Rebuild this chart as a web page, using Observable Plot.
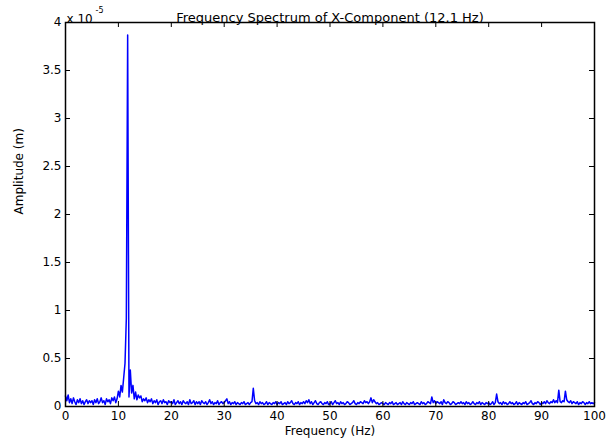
<!DOCTYPE html>
<html><head><meta charset="utf-8">
<script src="https://cdn.jsdelivr.net/npm/d3@7"></script>
<script src="https://cdn.jsdelivr.net/npm/@observablehq/plot@0.6"></script>
<style>
html,body{margin:0;padding:0;background:#fff;}
</style></head><body><div id="chart"></div>
<script>
const title = "Frequency Spectrum of X-Component (12.1 Hz)";
const xLabel = "Frequency (Hz)";
const yLabel = "Amplitude (m)";
const exponentBase = "x 10";
const exponentPower = "-5";
const freqStep = 0.25; // Hz between samples
// amplitude in units of 1e-5 m, one row per 5 Hz (20 samples)
const amplitude = [
  0.11, 0.06, 0.12, 0.04, 0.08, 0.03, 0.09, 0.05, 0.02, 0.07, 0.04, 0.08, 0.03, 0.06, 0.02, 0.05, 0.07, 0.03, 0.06, 0.04,
  0.06, 0.02, 0.07, 0.04, 0.08, 0.03, 0.05, 0.09, 0.04, 0.06, 0.02, 0.08, 0.05, 0.07, 0.03, 0.09, 0.06, 0.10, 0.04, 0.08,
  0.16, 0.10, 0.22, 0.15, 0.30, 0.45, 0.92, 3.87, 0.10, 0.38, 0.14, 0.22, 0.08, 0.15, 0.07, 0.12, 0.09, 0.11, 0.05, 0.08,
  0.06, 0.09, 0.04, 0.07, 0.05, 0.08, 0.03, 0.06, 0.04, 0.07, 0.02, 0.05, 0.06, 0.03, 0.07, 0.04, 0.05, 0.02, 0.06, 0.04,
  0.05, 0.03, 0.07, 0.02, 0.04, 0.06, 0.03, 0.05, 0.02, 0.06, 0.04, 0.03, 0.05, 0.02, 0.07, 0.03, 0.04, 0.06, 0.02, 0.05,
  0.03, 0.05, 0.02, 0.06, 0.04, 0.03, 0.05, 0.02, 0.04, 0.07, 0.03, 0.05, 0.02, 0.04, 0.03, 0.06, 0.02, 0.04, 0.05, 0.03,
  0.04, 0.06, 0.08, 0.03, 0.05, 0.02, 0.04, 0.03, 0.05, 0.02, 0.04, 0.03, 0.02, 0.04, 0.03, 0.05, 0.02, 0.03, 0.04, 0.02,
  0.04, 0.05, 0.19, 0.06, 0.03, 0.04, 0.02, 0.05, 0.03, 0.04, 0.02, 0.03, 0.05, 0.02, 0.04, 0.03, 0.02, 0.04, 0.03, 0.05,
  0.02, 0.04, 0.03, 0.05, 0.02, 0.03, 0.04, 0.02, 0.05, 0.03, 0.04, 0.06, 0.03, 0.02, 0.04, 0.03, 0.05, 0.02, 0.04, 0.03,
  0.05, 0.03, 0.06, 0.04, 0.07, 0.03, 0.05, 0.02, 0.04, 0.06, 0.03, 0.02, 0.04, 0.05, 0.03, 0.02, 0.04, 0.03, 0.05, 0.02,
  0.03, 0.05, 0.02, 0.04, 0.06, 0.03, 0.04, 0.02, 0.05, 0.03, 0.04, 0.02, 0.03, 0.05, 0.04, 0.02, 0.03, 0.04, 0.06, 0.03,
  0.02, 0.04, 0.03, 0.05, 0.04, 0.03, 0.06, 0.04, 0.05, 0.03, 0.05, 0.09, 0.04, 0.07, 0.05, 0.03, 0.04, 0.02, 0.03, 0.04,
  0.03, 0.02, 0.04, 0.03, 0.02, 0.04, 0.03, 0.05, 0.02, 0.03, 0.04, 0.02, 0.03, 0.04, 0.02, 0.05, 0.03, 0.02, 0.04, 0.03,
  0.02, 0.04, 0.03, 0.05, 0.02, 0.03, 0.04, 0.03, 0.02, 0.05, 0.03, 0.04, 0.02, 0.03, 0.05, 0.04, 0.03, 0.10, 0.04, 0.06,
  0.03, 0.05, 0.04, 0.03, 0.05, 0.02, 0.07, 0.04, 0.03, 0.05, 0.04, 0.02, 0.03, 0.05, 0.04, 0.02, 0.03, 0.04, 0.03, 0.05,
  0.03, 0.04, 0.02, 0.05, 0.03, 0.04, 0.02, 0.03, 0.05, 0.03, 0.02, 0.04, 0.03, 0.05, 0.02, 0.04, 0.03, 0.02, 0.04, 0.03,
  0.04, 0.02, 0.03, 0.05, 0.02, 0.04, 0.13, 0.05, 0.03, 0.04, 0.02, 0.05, 0.03, 0.04, 0.02, 0.03, 0.05, 0.03, 0.04, 0.02,
  0.03, 0.05, 0.02, 0.04, 0.03, 0.02, 0.04, 0.03, 0.05, 0.02, 0.03, 0.04, 0.06, 0.03, 0.02, 0.04, 0.03, 0.05, 0.04, 0.02,
  0.04, 0.03, 0.05, 0.03, 0.06, 0.04, 0.03, 0.05, 0.04, 0.07, 0.04, 0.06, 0.04, 0.17, 0.05, 0.04, 0.06, 0.05, 0.16, 0.07,
  0.05, 0.04, 0.06, 0.03, 0.05, 0.04, 0.03, 0.05, 0.02, 0.04, 0.03, 0.05, 0.04, 0.02, 0.04, 0.03, 0.05, 0.03, 0.04, 0.03,
  0.04
];
const xTicks = [0, 10, 20, 30, 40, 50, 60, 70, 80, 90, 100];
const yTicks = [0, 0.5, 1, 1.5, 2, 2.5, 3, 3.5, 4];

const data = amplitude.map((a, i) => ({f: i * freqStep, a}));

const W = 613, H = 440, mL = 65, mR = 19, mT = 22, mB = 34;
const tickLen = 5;
const innerH = H - mT - mB, innerW = W - mL - mR;
const font = "'DejaVu Sans', sans-serif";

const chart = Plot.plot({
  width: W, height: H,
  marginLeft: mL, marginRight: mR, marginTop: mT, marginBottom: mB,
  style: {fontFamily: font, fontSize: "12px", background: "white", color: "black", overflow: "visible"},
  x: {domain: [0, 100]},
  y: {domain: [0, 4]},
  marks: [
    Plot.line(data, {x: "f", y: "a", stroke: "#0000ff", strokeWidth: 1.5}),
    Plot.tickX(xTicks, {x: d => d, stroke: "black", insetTop: innerH - tickLen}),
    Plot.tickX(xTicks, {x: d => d, stroke: "black", insetBottom: innerH - tickLen}),
    Plot.tickY(yTicks, {y: d => d, stroke: "black", insetRight: innerW - tickLen}),
    Plot.tickY(yTicks, {y: d => d, stroke: "black", insetLeft: innerW - tickLen}),
    Plot.axisX(xTicks, {tickSize: 0, tickPadding: 5, label: null, tickFormat: d => String(d), fontSize: 12}),
    Plot.axisY(yTicks, {tickSize: 0, tickPadding: 4, label: null, tickFormat: d => String(d), fontSize: 12}),
    Plot.frame({stroke: "black", strokeWidth: 1.5}),
    Plot.text([title], {text: d => d, frameAnchor: "top", dy: -10, fontSize: 13}),
    Plot.text([xLabel], {text: d => d, frameAnchor: "bottom", dy: 28, fontSize: 12}),
    Plot.text([yLabel], {text: d => d, frameAnchor: "left", dx: -46, rotate: -90, fontSize: 12}),
    Plot.text([exponentBase], {text: d => d, frameAnchor: "top-left", textAnchor: "start", dx: 1, dy: -8, fontSize: 12}),
    Plot.text([exponentPower], {text: d => d, frameAnchor: "top-left", textAnchor: "start", dx: 30, dy: -15, fontSize: 8})
  ]
});
document.getElementById("chart").appendChild(chart);
</script>
</body></html>
